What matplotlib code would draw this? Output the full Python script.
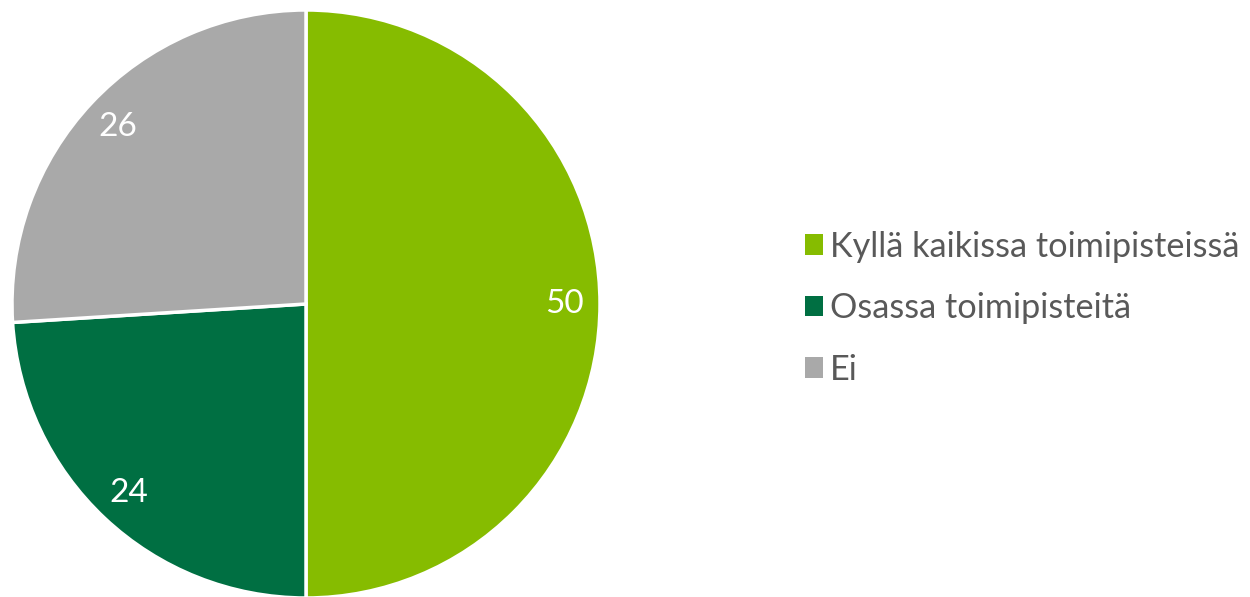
import matplotlib.pyplot as plt
from matplotlib.patches import Patch

# 数据
labels = ['Kyllä kaikissa toimipisteissä', 'Osassa toimipisteitä', 'Ei']
values = [50, 24, 26]
colors = ['#86bc00', '#006f42', '#a9a9a9']

plt.rcParams['font.family'] = ['Lato', 'DejaVu Sans']

fig = plt.figure(figsize=(12.5, 5.97), dpi=100)
ax = fig.add_axes([0.0096, -0.0017, 0.4704, 0.985])

wedges, texts = ax.pie(values, colors=colors, startangle=90, counterclock=False,
                       labels=[str(v) for v in values], labeldistance=0.88,
                       wedgeprops=dict(edgecolor='white', linewidth=2.5))
for t in texts:
    t.set_color('white')
    t.set_fontsize(24)
    t.set_ha('center')
    t.set_va('center')
ax.set_xlim(-1, 1)
ax.set_ylim(-1, 1)
ax.set_aspect('equal')

handles = [Patch(facecolor=c, edgecolor='none') for c in colors]
fig.legend(handles, labels, loc='center left', bbox_to_anchor=(0.619, 0.484),
           frameon=False, fontsize=24.7, labelcolor='#595959',
           handlelength=0.53, handleheight=0.53, handletextpad=0.2,
           labelspacing=0.86)

plt.savefig('out.png', dpi=100)
